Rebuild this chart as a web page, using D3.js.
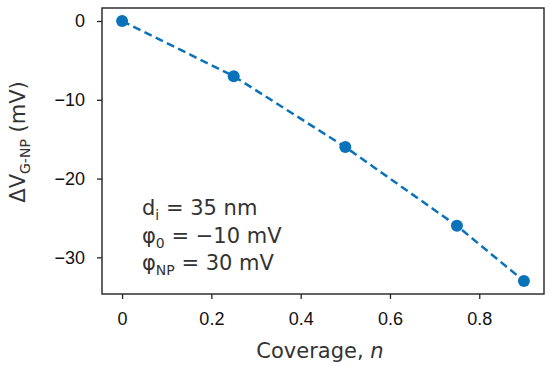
<!DOCTYPE html>
<html>
<head>
<meta charset="utf-8">
<script src="https://cdn.jsdelivr.net/npm/d3@7"></script>
<style>
  html, body { margin: 0; padding: 0; background: #fff; }
  svg { display: block; }
</style>
</head>
<body>
<div id="chart"></div>
<script>
// data
var coverage = [0, 0.25, 0.5, 0.75, 0.9];
var deltaV = [0, -7, -16, -26, -33];
var xTicks = [0, 0.2, 0.4, 0.6, 0.8];
var yTicks = [0, -10, -20, -30];

var W = 550, H = 367;
var margin = {top: 8, right: 6, bottom: 73, left: 102},
    width = W - margin.left - margin.right,
    height = H - margin.top - margin.bottom;

var color = "#0a72b8";

var svg = d3.select("#chart")
    .append("svg")
    .attr("width", W)
    .attr("height", H);

var g = svg.append("g")
    .attr("transform", "translate(" + margin.left + "," + margin.top + ")");

// matplotlib-style 5% padding around the data
var x = d3.scaleLinear().domain([-0.045, 0.945]).range([0, width]);
var y = d3.scaleLinear().domain([-34.65, 1.65]).range([height, 0]);

function fmtX(d) { return d === 0 ? "0" : d3.format(".1f")(d); }
function fmtY(d) { return d < 0 ? "\u2212" + Math.abs(d) : String(d); }

var xAxis = g.append("g")
    .attr("transform", "translate(0," + height + ")")
    .call(d3.axisBottom(x).tickValues(xTicks).tickFormat(fmtX).tickSize(5).tickSizeOuter(0).tickPadding(13));

var yAxis = g.append("g")
    .call(d3.axisLeft(y).tickValues(yTicks).tickFormat(fmtY).tickSize(5).tickSizeOuter(0).tickPadding(12));

[xAxis, yAxis].forEach(function(a) {
  a.select(".domain").remove();
  a.selectAll(".tick line").attr("stroke", "#222").attr("stroke-width", 1.3);
  a.selectAll(".tick text")
    .attr("fill", "#111")
    .style("font-family", "'Liberation Sans', Arial, sans-serif")
    .style("font-size", "18px");
});

// frame
g.append("rect")
    .attr("width", width)
    .attr("height", height)
    .attr("fill", "none")
    .attr("stroke", "#222")
    .attr("stroke-width", 1.4);

var pts = coverage.map(function(c, i) { return {x: c, y: deltaV[i]}; });

g.append("path")
    .datum(pts)
    .attr("fill", "none")
    .attr("stroke", color)
    .attr("stroke-width", 2.5)
    .attr("stroke-dasharray", "8,4.5")
    .attr("d", d3.line().x(function(d) { return x(d.x); }).y(function(d) { return y(d.y); }));

g.selectAll(".pt")
    .data(pts)
  .enter().append("circle")
    .attr("class", "pt")
    .attr("cx", function(d) { return x(d.x); })
    .attr("cy", function(d) { return y(d.y); })
    .attr("r", 6)
    .attr("fill", color);

var labelFont = "'DejaVu Sans', sans-serif";

// x label
var xl = svg.append("text")
    .attr("x", margin.left + width / 2 - 3)
    .attr("y", 358)
    .attr("text-anchor", "middle")
    .attr("fill", "#333")
    .style("font-family", labelFont)
    .style("font-size", "21px");
xl.append("tspan").text("Coverage, ");
xl.append("tspan").style("font-style", "italic").text("n");

// y label
var yl = svg.append("text")
    .attr("transform", "translate(25,142) rotate(-90)")
    .attr("text-anchor", "middle")
    .attr("fill", "#333")
    .style("font-family", labelFont)
    .style("font-size", "21px");
yl.append("tspan").text("\u0394V");
yl.append("tspan").attr("dy", 5).style("font-size", "14px").text("G-NP");
yl.append("tspan").attr("dy", -5).text(" (mV)");

// annotation
var notes = [
  {main: "d", sub: "i", rest: " = 35 nm"},
  {main: "\u03c6", sub: "0", rest: " = \u221210 mV"},
  {main: "\u03c6", sub: "NP", rest: " = 30 mV"}
];
notes.forEach(function(n, i) {
  var t = svg.append("text")
      .attr("x", 142)
      .attr("y", 215 + i * 27.5)
      .attr("fill", "#333")
      .style("font-family", labelFont)
      .style("font-size", "21px");
  t.append("tspan").text(n.main);
  t.append("tspan").attr("dy", 5).style("font-size", "14px").text(n.sub);
  t.append("tspan").attr("dy", -5).text(n.rest);
});
</script>
</body>
</html>
